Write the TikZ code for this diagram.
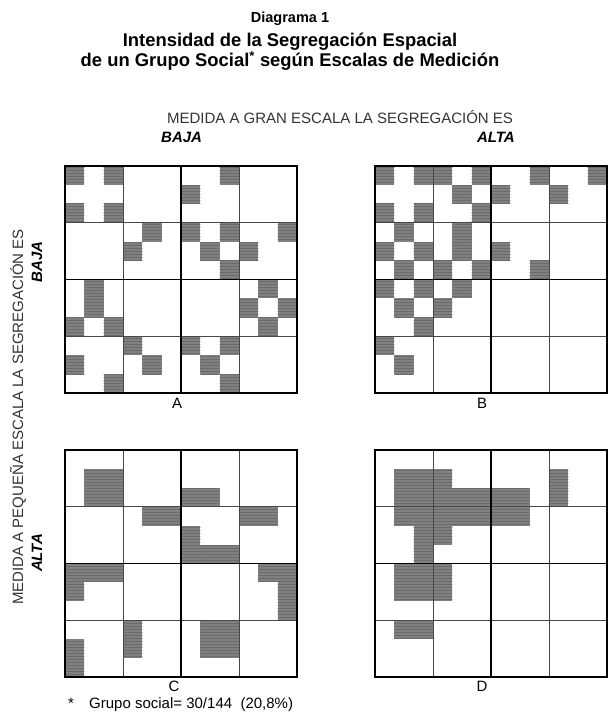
\documentclass[tikz,border=0pt]{standalone}
\usepackage{fontspec}
\setmainfont{Liberation Sans}
\usetikzlibrary{patterns}

% one 12x12 panel: #1 = left, #2 = top, #3 = shaded blocks c1/r1/c2/r2
\newcommand{\segpanel}[3]{%
  \begin{scope}[shift={(#1pt,-#2pt)}, x=19.333pt, y=-18.917pt]
    \foreach \ca/\ra/\cb/\rb in {#3}
      \path[cellfill] (\ca-1,\ra-1) rectangle (\cb,\rb);
    \foreach \k in {3,9} {
      \draw[thingrid] (\k,0) -- (\k,12);
      \draw[thingrid] (0,\k) -- (12,\k);
    }
    \draw[thickgrid] (6,0) -- (6,12) (0,6) -- (12,6);
    \draw[thickgrid] (0,0) rectangle (12,12);
  \end{scope}}

\begin{document}
\begin{tikzpicture}[
    x=1pt, y=-1pt,
    cellfill/.style={fill=black!50, postaction={pattern=horizontal lines, pattern color=black!58}},
    thingrid/.style={draw=black!72, line width=0.8pt},
    thickgrid/.style={draw=black, line width=1.5pt},
    headsmall/.style={anchor=base, inner sep=0pt, font=\fontsize{14.5}{16}\selectfont\bfseries},
    headbig/.style={anchor=base, inner sep=0pt, font=\fontsize{18.4}{20}\selectfont\bfseries},
    axis/.style={inner sep=0pt, text=black!80, font=\fontsize{15}{17}\selectfont},
    level/.style={inner sep=0pt, font=\fontsize{15}{17}\selectfont\bfseries\itshape},
    panellabel/.style={anchor=base, inner sep=0pt, font=\fontsize{15}{17}\selectfont}
  ]
  \useasboundingbox (0,0) rectangle (609,714);

  % titles
  \node[headsmall] (diag) at (290,23) {Diagrama 1};
  \node[headbig] (headone) at (290,47) {Intensidad de la Segregación Espacial};
  \node[headbig] (headtwo) at (290,67) {de un Grupo Social\textsuperscript{*} según Escalas de Medición};

  % top axis
  \node[axis, anchor=base] (topaxis) at (340,124) {MEDIDA A GRAN ESCALA LA SEGREGACIÓN ES};
  \node[level, anchor=base west] (topbaja) at (161,143) {BAJA};
  \node[level, anchor=base east] (topalta) at (515,143) {ALTA};

  % left axis
  \node[axis, rotate=90] (leftaxis) at (18,417) {MEDIDA A PEQUEÑA ESCALA LA SEGREGACIÓN ES};
  \node[level, rotate=90] (leftbaja) at (37,262) {BAJA};
  \node[level, rotate=90] (leftalta) at (37,553) {ALTA};

  % panels
  \segpanel{65}{166}{1/1/1/1, 3/1/3/1, 9/1/9/1, 7/2/7/2, 1/3/1/3, 3/3/3/3,
    5/4/5/4, 7/4/7/4, 9/4/9/4, 12/4/12/4, 4/5/4/5, 8/5/8/5, 10/5/10/5,
    9/6/9/6, 2/7/2/8, 11/7/11/7, 10/8/10/8, 12/8/12/8, 1/9/1/9, 3/9/3/9,
    11/9/11/9, 4/10/4/10, 7/10/7/10, 9/10/9/10, 1/11/1/11, 5/11/5/11,
    8/11/8/11, 3/12/3/12, 9/12/9/12}
  \segpanel{375}{166}{1/1/1/1, 3/1/3/1, 4/1/4/1, 6/1/6/1, 9/1/9/1, 12/1/12/1,
    5/2/5/2, 7/2/7/2, 10/2/10/2, 1/3/1/3, 3/3/3/3, 6/3/6/3, 2/4/2/4,
    5/4/5/5, 1/5/1/5, 3/5/3/5, 7/5/7/5, 2/6/2/6, 4/6/4/6, 6/6/6/6,
    9/6/9/6, 1/7/1/7, 3/7/3/7, 5/7/5/7, 2/8/2/8, 4/8/4/8, 3/9/3/9,
    1/10/1/10, 2/11/2/11}
  \segpanel{65}{450}{2/2/3/3, 7/3/8/3, 5/4/6/4, 10/4/11/4, 7/5/7/6, 8/6/9/6,
    1/7/3/7, 1/8/1/8, 11/7/12/7, 12/8/12/9, 4/10/4/11, 8/10/9/11, 1/11/1/12}
  \segpanel{375}{450}{2/2/4/3, 5/3/8/3, 2/4/8/4, 3/5/4/5, 3/6/3/6, 2/7/4/8,
    2/10/3/10, 10/2/10/3}

  \node[panellabel] (labA) at (177,408) {A};
  \node[panellabel] (labB) at (482,408) {B};
  \node[panellabel] (labC) at (174,691) {C};
  \node[panellabel] (labD) at (482,691) {D};

  % footnote
  \node[panellabel] (star) at (71,708) {*};
  \node[panellabel, anchor=base west] (note) at (89,708) {Grupo social= 30/144~~(20,8\%)};
\end{tikzpicture}
\end{document}
